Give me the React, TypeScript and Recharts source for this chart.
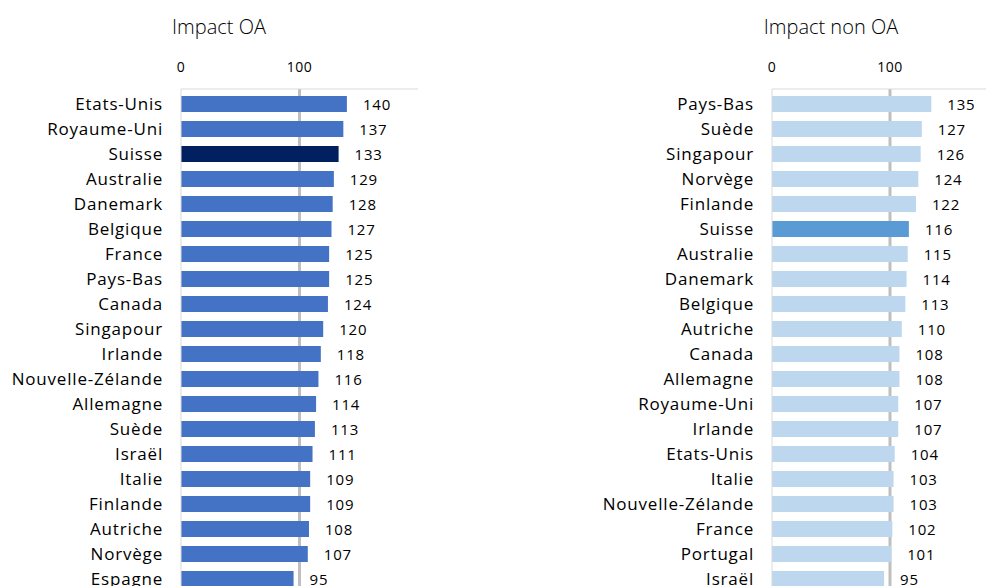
import React from "react";
import {
  BarChart,
  Bar,
  XAxis,
  YAxis,
  Cell,
  LabelList,
  CartesianGrid,
} from "recharts";

const leftTitle = "Impact OA";
const rightTitle = "Impact non OA";

const leftCountries = [
  "Etats-Unis", "Royaume-Uni", "Suisse", "Australie", "Danemark", "Belgique",
  "France", "Pays-Bas", "Canada", "Singapour", "Irlande", "Nouvelle-Zélande",
  "Allemagne", "Suède", "Israël", "Italie", "Finlande", "Autriche", "Norvège", "Espagne",
];
const leftValues = [140, 137, 133, 129, 128, 127, 125, 125, 124, 120, 118, 116, 114, 113, 111, 109, 109, 108, 107, 95];

const rightCountries = [
  "Pays-Bas", "Suède", "Singapour", "Norvège", "Finlande", "Suisse", "Australie",
  "Danemark", "Belgique", "Autriche", "Canada", "Allemagne", "Royaume-Uni", "Irlande",
  "Etats-Unis", "Italie", "Nouvelle-Zélande", "France", "Portugal", "Israël",
];
const rightValues = [135, 127, 126, 124, 122, 116, 115, 114, 113, 110, 108, 108, 107, 107, 104, 103, 103, 102, 101, 95];

const axisTicks = [0, 100];
const gridValues = [100];
const highlight = "Suisse";

const FONT = "'Open Sans', sans-serif";

type PanelProps = {
  countries: string[];
  values: number[];
  color: string;
  highlightColor: string;
  width: number;
  yAxisWidth: number;
};

function Panel({ countries, values, color, highlightColor, width, yAxisWidth }: PanelProps) {
  const data = countries.map((c, i) => ({ country: c, value: values[i] }));
  return (
    <BarChart
      width={width}
      height={600}
      data={data}
      layout="vertical"
      margin={{ top: 51, right: 20, bottom: 17, left: 0 }}
      barSize={16}
    >
      <CartesianGrid
        horizontal={false}
        vertical={true}
        verticalValues={gridValues}
        stroke="#bfbfbf"
        strokeWidth={3}
      />
      <XAxis
        type="number"
        orientation="top"
        domain={[0, 200]}
        ticks={axisTicks}
        height={30}
        tickLine={false}
        tickSize={0}
        tickMargin={17}
        axisLine={{ stroke: "#d9d9d9" }}
        tick={{ fill: "#000", fontSize: 14, fontFamily: FONT, letterSpacing: 0.5 }}
      />
      <YAxis
        type="category"
        dataKey="country"
        width={yAxisWidth}
        padding={{ top: 2, bottom: 0 }}
        tickLine={false}
        tickSize={0}
        tickMargin={18}
        axisLine={{ stroke: "#d9d9d9" }}
        interval={0}
        tick={{ fill: "#000", fontSize: 17, fontFamily: FONT, letterSpacing: 0.8 }}
      />
      <Bar dataKey="value" isAnimationActive={false}>
        {data.map((d) => (
          <Cell key={d.country} fill={d.country === highlight ? highlightColor : color} />
        ))}
        <LabelList
          dataKey="value"
          position="right"
          offset={16}
          fill="#000"
          dy={1}
          style={{ fontSize: 15, fontFamily: FONT, letterSpacing: 0.8 }}
        />
      </Bar>
    </BarChart>
  );
}

export default function App() {
  const titleStyle: React.CSSProperties = {
    position: "absolute",
    top: 5,
    fontFamily: FONT,
    fontSize: 20,
    fontWeight: 300,
    color: "#000",
    transform: "translateX(-50%)",
    whiteSpace: "nowrap",
  };
  return (
    <div style={{ position: "relative", width: 986, height: 578, overflow: "hidden", background: "#fff" }}>
      <div style={{ ...titleStyle, left: 211 }}>{leftTitle}</div>
      <div style={{ ...titleStyle, left: 823 }}>{rightTitle}</div>
      <div style={{ position: "absolute", left: 0, top: 0 }}>
        <Panel
          countries={leftCountries}
          values={leftValues}
          color="#4472c4"
          highlightColor="#002060"
          width={430}
          yAxisWidth={173}
        />
      </div>
      <div style={{ position: "absolute", left: 430, top: 0 }}>
        <Panel
          countries={rightCountries}
          values={rightValues}
          color="#bdd7ee"
          highlightColor="#5b9bd5"
          width={590}
          yAxisWidth={334}
        />
      </div>
    </div>
  );
}
